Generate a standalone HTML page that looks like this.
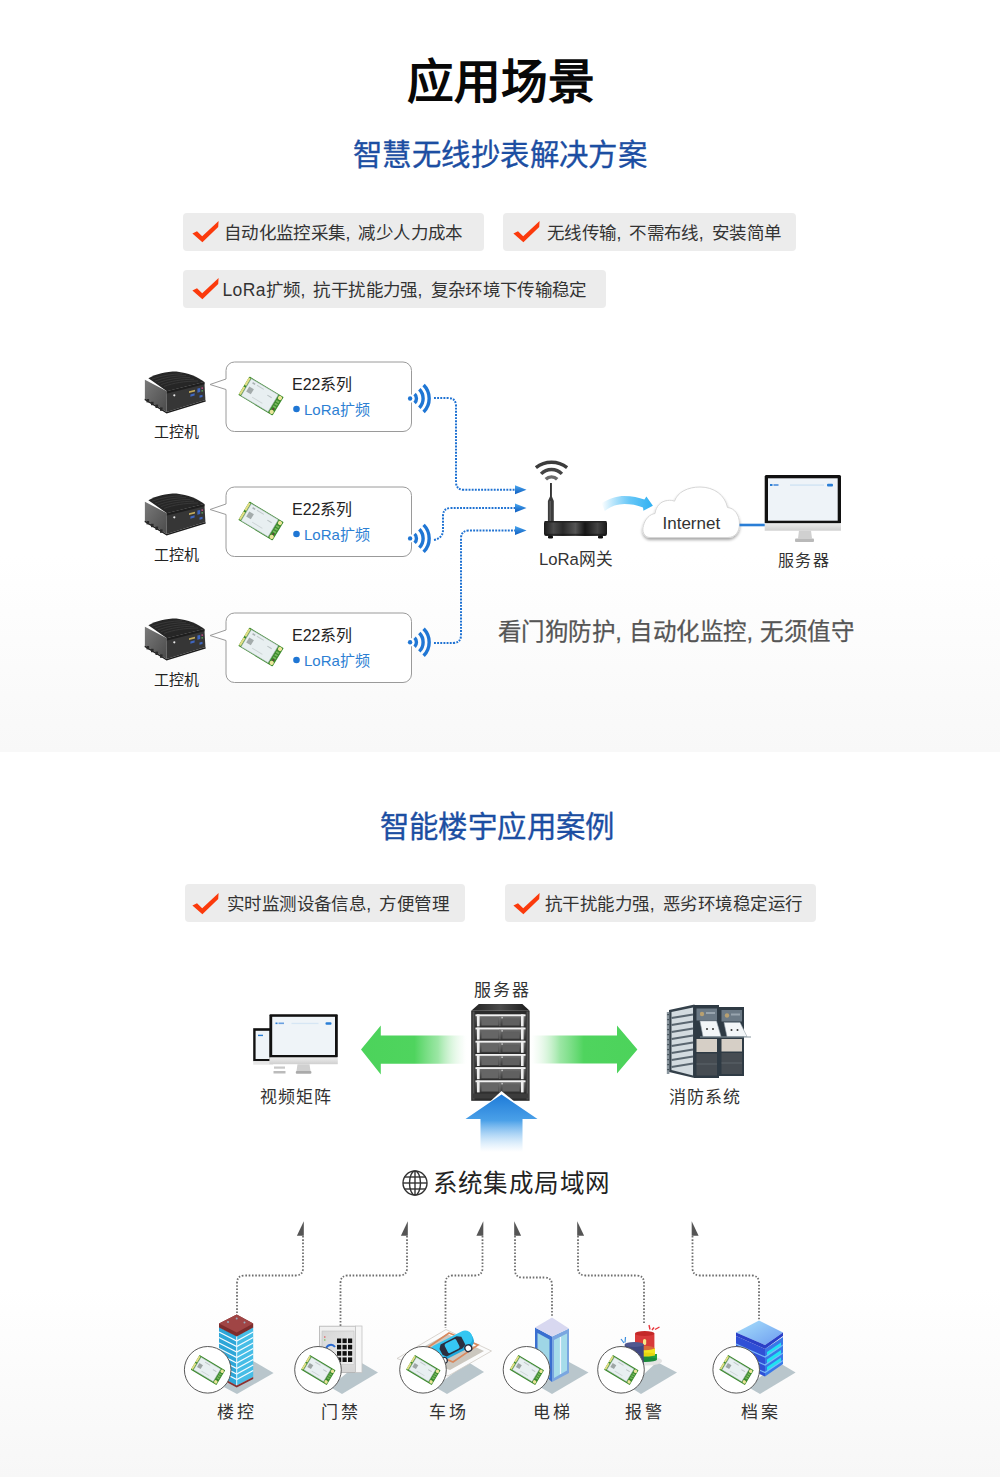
<!DOCTYPE html>
<html lang="zh-CN"><head><meta charset="utf-8">
<style>
*{margin:0;padding:0;box-sizing:border-box}
html,body{width:1000px;height:1477px;overflow:hidden;background:#fff}
body{font-family:"Liberation Sans",sans-serif;position:relative}
.a{position:absolute;white-space:nowrap;line-height:1}
.bg1{position:absolute;left:0;top:0;width:1000px;height:752px;background:linear-gradient(to bottom,#fff 0,#fff 555px,#f8f8f8 752px)}
.bg2{position:absolute;left:0;top:752px;width:1000px;height:725px;background:linear-gradient(to bottom,#fff 0,#fff 535px,#f7f7f7 725px)}
.title{font-size:46.7px;font-weight:700;color:#080808}
.sub{font-size:29.4px;letter-spacing:0.42px;font-weight:400;color:#1c4ea2;-webkit-text-stroke:0.35px #1c4ea2}
.feat{position:absolute;height:38px;background:#ececec;border-radius:4px}
.feat .t{position:absolute;top:11.8px;font-size:17.5px;letter-spacing:0.35px;color:#333;line-height:1}
.cm{margin-right:2.6px}
.feat svg{position:absolute;left:0;top:0}
.bub{position:absolute;width:186px;height:70px;border:1px solid #9a9a9a;border-radius:9px;background:#fff}
.lbl{font-size:15px;color:#222}
.lbl2{font-size:17px;color:#333}
</style></head><body>
<div class="bg1"></div>
<div class="bg2"></div>

<div class="a title" style="left:407px;top:59px">应用场景</div>
<div class="a sub" style="left:353px;top:140.3px">智慧无线抄表解决方案</div>

<div class="feat" style="left:183px;top:213px;width:301px">
 <svg width="40" height="38" viewBox="0 0 40 38"><polygon points="9.4,20.6 14,18.2 19.2,23.2 35.6,8 35.2,14 19.4,29.2" fill="#fb3a0c"/></svg>
 <div class="t" style="left:41px">自动化监控采集<span class="cm">,</span> 减少人力成本</div></div>
<div class="feat" style="left:503px;top:213px;width:293px">
 <svg width="40" height="38" viewBox="0 0 40 38" style="left:1px"><polygon points="9.4,20.6 14,18.2 19.2,23.2 35.6,8 35.2,14 19.4,29.2" fill="#fb3a0c"/></svg>
 <div class="t" style="left:44px">无线传输<span class="cm">,</span> 不需布线<span class="cm">,</span> 安装简单</div></div>
<div class="feat" style="left:183px;top:270px;width:423px">
 <svg width="40" height="38" viewBox="0 0 40 38"><polygon points="9.4,20.6 14,18.2 19.2,23.2 35.6,8 35.2,14 19.4,29.2" fill="#fb3a0c"/></svg>
 <div class="t" style="left:39.5px">LoRa扩频<span class="cm">,</span> 抗干扰能力强<span class="cm">,</span> 复杂环境下传输稳定</div></div>

<div class="a" style="left:498px;top:620.5px;font-size:23.5px;letter-spacing:0.45px;color:#555;-webkit-text-stroke:0.25px #555">看门狗防护, 自动化监控, 无须值守</div>


<svg class="a" style="left:0;top:0" width="1000" height="1477" viewBox="0 0 1000 1477">
<defs>
 <g id="mod">
  <g transform="rotate(31)">
   <rect x="-20" y="-10.8" width="40" height="21.6" rx="0.8" fill="#3b8a2c"/>
   <rect x="-20" y="-9.6" width="2.2" height="8.6" fill="#e2de86"/>
   <rect x="-20" y="0.8" width="2.2" height="8.8" fill="#e2de86"/>
   <rect x="-17.2" y="-9.9" width="31.4" height="19.8" fill="#e8eff1" stroke="#a9b6b8" stroke-width="0.5"/>
   <rect x="-15" y="-2.2" width="5.4" height="6" fill="#a3abab"/>
   <rect x="-14" y="-7.8" width="3" height="1.6" fill="#aab2b4"/>
   <rect x="-9" y="-7.6" width="8" height="1" fill="#c4ccce"/>
   <rect x="5" y="-4.6" width="5" height="1.1" fill="#b9c2c4"/>
   <rect x="-7" y="5.2" width="12" height="0.8" fill="#ccd3d5"/>
   <circle cx="17.3" cy="-8.1" r="2.1" fill="#ebe59a"/>
   <circle cx="17.3" cy="8.1" r="2.1" fill="#ebe59a"/>
   <rect x="15.6" y="-4.6" width="3.2" height="1.8" fill="#78b860"/>
   <rect x="15.6" y="-1.6" width="3.2" height="1.8" fill="#78b860"/>
   <rect x="15.6" y="1.4" width="3.2" height="1.8" fill="#78b860"/>
   <circle cx="17.2" cy="4.9" r="0.8" fill="#7a2040"/>
  </g>
 </g>
 <g id="pc">
  <linearGradient id="pcL" x1="0" y1="0" x2="1" y2="1"><stop offset="0" stop-color="#7a7a7a"/><stop offset="1" stop-color="#4a4a4a"/></linearGradient>
  <polygon points="4.9,14.7 26.9,26.2 26.6,46.9 4.9,33.6" fill="url(#pcL)"/>
  <path d="M8.4,13.3 C16,9 26,6.6 36.4,6.6 C48,8 58,12 64.4,17.1 L26.9,26.2 Z" fill="#262626"/>
  <g stroke="#3a3a3a" stroke-width="0.9" fill="none">
   <path d="M12,14.2 C22,10.5 32,9 42,8.8"/><path d="M15,16 C25,12.3 35,10.8 46,10.6"/><path d="M18,17.8 C28,14.2 38,12.6 50,12.4"/><path d="M21,19.6 C31,16 41,14.4 54,14.2"/><path d="M24,21.4 C34,17.8 44,16.2 58,16"/>
  </g>
  <polygon points="26.9,26.2 64.4,17.1 65.4,35 26.6,46.9" fill="#363636"/>
  <polygon points="26.9,26.2 64.4,17.1 64.5,19.3 26.9,28.6" fill="#1e1e1e"/>
  <circle cx="34.3" cy="30.3" r="1.1" fill="#e8e8e8"/>
  <polygon points="49,26.3 55,24.8 55,26.4 49,27.9" fill="#c2aa5c"/>
  <polygon points="50.4,29.4 54.6,28.3 54.6,30.6 50.4,31.7" fill="#3f66c0"/>
  <polygon points="57.4,23.6 60.2,22.9 60.2,27 57.4,27.7" fill="#3f66c0"/>
  <polygon points="59.5,30.5 62.5,29.8 62.5,32 59.5,32.7" fill="#3f66c0"/>
  <circle cx="62.2" cy="23.1" r="0.9" fill="#c04a80"/>
  <circle cx="62.2" cy="25.8" r="0.9" fill="#5a9a5a"/>
  <polygon points="4.9,33.6 26.6,46.9 65.4,35 65.8,36.4 26.6,48.5 4.5,35" fill="#1c1c1c"/>
  <g fill="#2a2a2a"><rect x="6.5" y="34" width="2.6" height="3.4"/><rect x="11" y="36.8" width="2.6" height="3.4"/><rect x="15.5" y="39.6" width="2.6" height="3.4"/><rect x="20" y="42.4" width="2.6" height="3.4"/></g>
 </g>
 <g id="wifi" fill="none" stroke="#1f76d4" stroke-width="3.4">
  <circle cx="0" cy="0" r="4.2" fill="#fff" stroke="none"/>
  <circle cx="0" cy="0" r="2.2" fill="#1f76d4" stroke="none"/>
  <path d="M4.5,-4.5 A6.4,6.4 0 0 1 4.5,4.5"/>
  <path d="M9.2,-9.2 A13,13 0 0 1 9.2,9.2"/>
  <path d="M13.5,-13.5 A19.1,19.1 0 0 1 13.5,13.5"/>
 </g>
 <linearGradient id="arrG" x1="0" y1="0" x2="0" y2="1"><stop offset="0" stop-color="#4aa6ee"/><stop offset="1" stop-color="#0c5cc0"/></linearGradient>
 <linearGradient id="cArr" x1="0" y1="0" x2="1" y2="0"><stop offset="0" stop-color="#3ab8f5" stop-opacity="0"/><stop offset="0.55" stop-color="#55c0f6" stop-opacity="0.9"/><stop offset="1" stop-color="#2eb0f2"/></linearGradient>
 <linearGradient id="rbase" x1="0" y1="0" x2="1" y2="0"><stop offset="0" stop-color="#0e0e0e"/><stop offset="0.3" stop-color="#3a3a3a"/><stop offset="0.5" stop-color="#555"/><stop offset="0.7" stop-color="#2a2a2a"/><stop offset="1" stop-color="#0e0e0e"/></linearGradient>
 <linearGradient id="silver" x1="0" y1="0" x2="0" y2="1"><stop offset="0" stop-color="#ececec"/><stop offset="1" stop-color="#cfcfcf"/></linearGradient>
 <filter id="cshadow" x="-20%" y="-20%" width="140%" height="160%"><feGaussianBlur in="SourceAlpha" stdDeviation="1.5"/><feOffset dy="1.5"/><feComponentTransfer><feFuncA type="linear" slope="0.35"/></feComponentTransfer><feMerge><feMergeNode/><feMergeNode in="SourceGraphic"/></feMerge></filter>
</defs>

<!-- bubbles -->
<g fill="#fff" stroke="#9a9a9a" stroke-width="1">
 <path d="M234.5,362 H403 A8.5,8.5 0 0 1 411.5,370.5 V423 A8.5,8.5 0 0 1 403,431.5 H234.5 A8.5,8.5 0 0 1 226,423 V389.5 L210,384.5 L226,379 V370.5 A8.5,8.5 0 0 1 234.5,362 Z"/>
 <path d="M234.5,487 H403 A8.5,8.5 0 0 1 411.5,495.5 V548 A8.5,8.5 0 0 1 403,556.5 H234.5 A8.5,8.5 0 0 1 226,548 V514.5 L210,509.5 L226,504 V495.5 A8.5,8.5 0 0 1 234.5,487 Z"/>
 <path d="M234.5,613 H403 A8.5,8.5 0 0 1 411.5,621.5 V674 A8.5,8.5 0 0 1 403,682.5 H234.5 A8.5,8.5 0 0 1 226,674 V640.5 L210,635.5 L226,630 V621.5 A8.5,8.5 0 0 1 234.5,613 Z"/>
</g>
<use href="#mod" x="261" y="396"/>
<use href="#mod" x="261" y="521"/>
<use href="#mod" x="261" y="647"/>
<circle cx="296.5" cy="409" r="3.3" fill="#1f76d4"/>
<circle cx="296.5" cy="534" r="3.3" fill="#1f76d4"/>
<circle cx="296.5" cy="660" r="3.3" fill="#1f76d4"/>

<use href="#pc" x="140" y="365"/>
<use href="#pc" x="140" y="487"/>
<use href="#pc" x="140" y="612"/>

<use href="#wifi" x="410.1" y="398.5"/>
<use href="#wifi" x="410.1" y="538.4"/>
<use href="#wifi" x="410.1" y="642.2"/>

<!-- dotted lines -->
<g fill="none" stroke="#1f72d2" stroke-width="2" stroke-dasharray="1.9 1.25">
 <path d="M434,398 H448 Q456,398 456,406 V482 Q456,489.8 464,489.8 H515"/>
 <path d="M434,540 Q443,538 443,530 V516 Q443,508 451,508 H515"/>
 <path d="M434,643 H453 Q461,643 461,635 V538.5 Q461,530.6 469,530.6 H515"/>
</g>
<g fill="url(#arrG)">
 <polygon points="515,485.3 526.5,489.8 515,494.3"/>
 <polygon points="515,503.5 526.5,508 515,512.5"/>
 <polygon points="515,526.1 526.5,530.6 515,535.1"/>
</g>

<!-- router -->
<g fill="none" stroke-width="3.4">
 <path d="M535.9,467.6 A25.3,25.3 0 0 1 567.1,467.6" stroke="#3c3c3c"/>
 <path d="M541.1,473.9 A14.5,14.5 0 0 1 561.9,473.9" stroke="#444"/>
 <path d="M545.8,479.3 A8,8 0 0 1 557.2,479.3" stroke="#6a6a6a"/>
</g>
<rect x="550" y="483" width="1.9" height="15" fill="#333"/>
<polygon points="550,496.5 551.9,496.5 553.8,501 547.9,501" fill="#3a3a3a"/>
<rect x="547.9" y="501" width="5.9" height="20.5" fill="#3c3c3c"/>
<rect x="549.4" y="501" width="1.6" height="20.5" fill="#5a5a5a"/>
<linearGradient id="rb2" x1="0" y1="0" x2="1" y2="0"><stop offset="0" stop-color="#1a1a1a"/><stop offset="0.15" stop-color="#4a4a4a"/><stop offset="0.3" stop-color="#2a2a2a"/><stop offset="0.5" stop-color="#555"/><stop offset="0.65" stop-color="#151515"/><stop offset="0.85" stop-color="#444"/><stop offset="1" stop-color="#181818"/></linearGradient>
<rect x="544" y="520.9" width="63" height="15" rx="2.2" fill="url(#rb2)"/>
<rect x="544.5" y="520.9" width="62" height="1.6" rx="0.8" fill="#222"/>
<rect x="545" y="533.8" width="61" height="1.6" fill="#111" opacity="0.6"/>
<rect x="548" y="535.5" width="5" height="3" rx="1.2" fill="#111"/>
<rect x="598" y="535.5" width="5" height="3" rx="1.2" fill="#111"/>

<!-- curved arrow -->
<path d="M601.5,503.2 C610,498 617,496 624.3,496 C632,496 639,497.5 644.4,499.6 L646.4,496.4 L652.9,505.8 L643.4,510.7 L643,507.4 C637,505 631,503.9 624.3,503.9 C617,503.9 610,506.5 604.8,511 Z" fill="url(#cArr)"/>

<!-- cloud -->
<path filter="url(#cshadow)" d="M650,537.5 C644,537.5 641.5,531 643.5,525.5 C645,519 650,514 655,513.5 C656,506 661,501 667.5,500.5 C670,500 672.5,500.3 674.5,501.2 C677.5,492 688,487 700,487 C714,487 725,495 727.5,507.5 C734.5,508 739.5,515 739.5,524 C739.5,532 735,537.5 728,537.5 Z" fill="#fff" stroke="#d6d6d6" stroke-width="1"/>
<line x1="739.5" y1="525" x2="765" y2="525" stroke="#2a7ed6" stroke-width="2.6"/>

<!-- monitor -->
<rect x="764.7" y="475" width="76.3" height="48.7" rx="1.5" fill="#111"/>
<rect x="768" y="478.3" width="69.7" height="42.4" fill="#eef3f8"/>
<rect x="764.7" y="523.2" width="76.3" height="7.5" fill="url(#silver)"/>
<rect x="770" y="484" width="2.5" height="2" fill="#2a7ed6"/>
<rect x="773.5" y="484" width="5" height="2" fill="#6aa0e0"/>
<rect x="790" y="484.2" width="34" height="1.8" fill="#d6e6f4"/>
<rect x="827" y="483.8" width="6" height="2.6" rx="1" fill="#2a7ed6"/>
<polygon points="799,530.7 811,530.7 812,538.5 798,538.5" fill="#d0d0d0"/>
<rect x="795" y="538.5" width="19" height="3.5" rx="1" fill="#b9b9b9"/>
</svg>

<div class="a" style="left:154px;top:424.3px;font-size:15px;color:#222">工控机</div>
<div class="a" style="left:154px;top:546.5px;font-size:15px;color:#222">工控机</div>
<div class="a" style="left:154px;top:672px;font-size:15px;color:#222">工控机</div>
<div class="a" style="left:292px;top:377px;font-size:16px;color:#222">E22系列</div>
<div class="a" style="left:292px;top:502px;font-size:16px;color:#222">E22系列</div>
<div class="a" style="left:292px;top:628px;font-size:16px;color:#222">E22系列</div>
<div class="a" style="left:304px;top:401.5px;font-size:15px;color:#2d7fd3">LoRa扩频</div>
<div class="a" style="left:304px;top:526.5px;font-size:15px;color:#2d7fd3">LoRa扩频</div>
<div class="a" style="left:304px;top:652.5px;font-size:15px;color:#2d7fd3">LoRa扩频</div>
<div class="a" style="left:539px;top:552px;font-size:16.7px;color:#333">LoRa网关</div>
<div class="a" style="left:662.5px;top:515px;font-size:17px;color:#333">Internet</div>
<div class="a" style="left:777.5px;top:553px;font-size:16px;letter-spacing:1.7px;color:#333">服务器</div>

<div class="a sub" style="left:379.5px;top:812.3px">智能楼宇应用案例</div>

<div class="feat" style="left:185px;top:884px;width:280px">
 <svg width="40" height="38" viewBox="0 0 40 38" style="left:-1.9px;top:0.7px"><polygon points="9.4,20.6 14,18.2 19.2,23.2 35.6,8 35.2,14 19.4,29.2" fill="#fb3a0c"/></svg>
 <div class="t" style="left:42px;letter-spacing:0.4px">实时监测设备信息<span class="cm">,</span> 方便管理</div></div>
<div class="feat" style="left:505px;top:884px;width:311px">
 <svg width="40" height="38" viewBox="0 0 40 38" style="left:-0.9px;top:0.7px"><polygon points="9.4,20.6 14,18.2 19.2,23.2 35.6,8 35.2,14 19.4,29.2" fill="#fb3a0c"/></svg>
 <div class="t" style="left:40px;letter-spacing:0.45px">抗干扰能力强<span class="cm">,</span> 恶劣环境稳定运行</div></div>


<svg class="a" style="left:0;top:0" width="1000" height="1477" viewBox="0 0 1000 1477">
<defs>
 <linearGradient id="gL" x1="0" y1="0" x2="1" y2="0"><stop offset="0" stop-color="#4cd35b"/><stop offset="0.5" stop-color="#4fd45e"/><stop offset="0.72" stop-color="#7ade86" stop-opacity="0.75"/><stop offset="0.95" stop-color="#e8f8ea" stop-opacity="0.3"/><stop offset="1" stop-color="#fff" stop-opacity="0"/></linearGradient>
 <linearGradient id="gR" x1="1" y1="0" x2="0" y2="0"><stop offset="0" stop-color="#4cd35b"/><stop offset="0.5" stop-color="#4fd45e"/><stop offset="0.72" stop-color="#7ade86" stop-opacity="0.75"/><stop offset="0.95" stop-color="#e8f8ea" stop-opacity="0.3"/><stop offset="1" stop-color="#fff" stop-opacity="0"/></linearGradient>
 <linearGradient id="bU" x1="0" y1="0" x2="0" y2="1"><stop offset="0" stop-color="#1e7bd8"/><stop offset="0.45" stop-color="#4aa0e8"/><stop offset="1" stop-color="#9fd0f6" stop-opacity="0"/></linearGradient>
 <linearGradient id="srvTop" x1="0" y1="0" x2="1" y2="0"><stop offset="0" stop-color="#222"/><stop offset="0.5" stop-color="#4a4a4a"/><stop offset="1" stop-color="#1a1a1a"/></linearGradient>
 <linearGradient id="bay" x1="0" y1="0" x2="0" y2="1"><stop offset="0" stop-color="#7a7a7a"/><stop offset="1" stop-color="#383838"/></linearGradient>
 <linearGradient id="dbTop" x1="0" y1="0" x2="1" y2="1"><stop offset="0" stop-color="#a8e0fb"/><stop offset="1" stop-color="#6c9cf0"/></linearGradient>
 <g id="srvbay">
  <rect x="0" y="0" width="50" height="12" fill="url(#bay)"/>
  <rect x="0" y="0" width="50" height="1.8" fill="#f2f2f2"/>
  <rect x="1.5" y="0" width="2.6" height="12" fill="#eee"/>
  <rect x="45.5" y="0" width="2.6" height="12" fill="#eee"/>
  <rect x="24" y="1.8" width="0.8" height="10" fill="#777"/>
  <rect x="26" y="2.5" width="1.2" height="1.5" fill="#ddd"/>
  <rect x="6" y="3" width="17" height="8" fill="#666"/>
  <rect x="27" y="4.5" width="17" height="6.5" fill="#606060"/>
 </g>
 <g id="mod2"><g transform="rotate(31)">
   <rect x="-15" y="-8.6" width="30" height="17.2" rx="0.6" fill="#3b8a2c"/>
   <rect x="-15" y="-7.6" width="1.8" height="6.8" fill="#e2de86"/>
   <rect x="-15" y="0.6" width="1.8" height="7" fill="#e2de86"/>
   <rect x="-12.4" y="-7.3" width="22.8" height="14.6" fill="#e8eff1" stroke="#a9b6b8" stroke-width="0.4"/>
   <rect x="-11" y="-1.6" width="4.2" height="4.6" fill="#9ea6a6"/>
   <rect x="-6.5" y="-5.6" width="6" height="0.9" fill="#c0c8ca"/>
   <rect x="4" y="-3.4" width="4" height="0.9" fill="#b9c2c4"/>
   <rect x="-5" y="4" width="9" height="0.7" fill="#ccd3d5"/>
   <circle cx="12.8" cy="-6.2" r="1.7" fill="#ebe59a"/>
   <circle cx="12.8" cy="6.2" r="1.7" fill="#ebe59a"/>
   <rect x="11.5" y="-3.4" width="2.6" height="1.4" fill="#78b860"/>
   <rect x="11.5" y="-1.1" width="2.6" height="1.4" fill="#78b860"/>
   <rect x="11.5" y="1.2" width="2.6" height="1.4" fill="#78b860"/>
  </g></g>
</defs>

<!-- video matrix -->
<rect x="253.2" y="1028.2" width="17" height="33" fill="#111"/>
<rect x="255.6" y="1030.8" width="14" height="28.2" fill="#eff4f8"/>
<rect x="258" y="1034.7" width="5" height="1.4" fill="#2a7ed6"/>
<rect x="253.2" y="1061.2" width="20" height="3.5" fill="#e6e6e6"/>
<rect x="274" y="1066.5" width="11" height="2.2" fill="#c8c8c8"/>
<rect x="273.5" y="1071" width="12" height="2.5" fill="#bbb"/>
<rect x="269.4" y="1014.2" width="68.4" height="43.4" rx="1" fill="#111"/>
<rect x="272.2" y="1016.8" width="62.8" height="38.2" fill="#eff4f8"/>
<rect x="275.5" y="1022.5" width="2" height="1.6" fill="#2a7ed6"/><rect x="278.5" y="1022.5" width="5.5" height="1.6" fill="#6aa0e0"/>
<rect x="291.5" y="1022.8" width="27" height="1.3" fill="#d6e6f4"/>
<rect x="325.5" y="1022.3" width="6" height="2.4" rx="1" fill="#2a7ed6"/>
<rect x="269.4" y="1057.6" width="68.4" height="6.6" fill="url(#silver)"/>
<polygon points="297.5,1064.2 309.5,1064.2 310.5,1071 296.5,1071" fill="#d0d0d0"/>
<rect x="295.8" y="1071" width="15.6" height="2.8" rx="1" fill="#aaa"/>

<!-- green arrows -->
<polygon points="361,1049.5 380.8,1025.4 380.8,1035.6 468,1035.6 468,1063.8 380.8,1063.8 380.8,1074.6" fill="url(#gL)"/>
<polygon points="637.4,1049.5 617,1025.5 617,1035.4 530,1035.4 530,1063.6 617,1063.6 617,1073.5" fill="url(#gR)"/>

<!-- server rack -->
<polygon points="478.8,1004 522.4,1004 529.6,1010.8 471.2,1010.8" fill="url(#srvTop)"/>
<rect x="471.2" y="1010.8" width="58.4" height="90" fill="#2b2b2b"/>
<rect x="472.5" y="1011.5" width="2" height="88" fill="#555"/>
<rect x="526.5" y="1011.5" width="2" height="88" fill="#555"/>
<use href="#srvbay" x="475.5" y="1014.4"/>
<use href="#srvbay" x="475.5" y="1027.6"/>
<use href="#srvbay" x="475.5" y="1040.8"/>
<use href="#srvbay" x="475.5" y="1054"/>
<use href="#srvbay" x="475.5" y="1067.2"/>
<use href="#srvbay" x="475.5" y="1080.4"/>
<rect x="473" y="1093.5" width="55" height="5" fill="#3c3c3c"/>

<!-- blue arrow up -->
<polygon points="501.5,1091 470,1120 537,1120" fill="#fff"/>
<polygon points="501.5,1094.5 465.5,1119 480.5,1119 480.5,1152 522.5,1152 522.5,1119 537.5,1119" fill="url(#bU)"/>

<!-- fire system -->
<g>
 <polygon points="669,1010 694.5,1004.5 694.5,1078 669,1072" fill="#34404a"/>
 <polygon points="671.5,1012 693,1007.5 693,1075.5 671.5,1070" fill="#d3dbe0"/>
 <g stroke="#5a6670" stroke-width="2.2">
  <line x1="671.5" y1="1018" x2="693" y2="1014.5"/><line x1="671.5" y1="1025" x2="693" y2="1021.5"/><line x1="671.5" y1="1032" x2="693" y2="1028.5"/><line x1="671.5" y1="1039" x2="693" y2="1035.5"/><line x1="671.5" y1="1046" x2="693" y2="1042.5"/><line x1="671.5" y1="1053" x2="693" y2="1049.5"/><line x1="671.5" y1="1060" x2="693" y2="1056.5"/><line x1="671.5" y1="1067" x2="693" y2="1063.5"/>
 </g>
 <rect x="666.8" y="1012" width="2.6" height="62" fill="#8a969e"/>
 <g fill="#3a464e"><rect x="667.3" y="1014" width="1.6" height="1.2"/><rect x="667.3" y="1019" width="1.6" height="1.2"/><rect x="667.3" y="1024" width="1.6" height="1.2"/><rect x="667.3" y="1029" width="1.6" height="1.2"/><rect x="667.3" y="1034" width="1.6" height="1.2"/><rect x="667.3" y="1039" width="1.6" height="1.2"/><rect x="667.3" y="1044" width="1.6" height="1.2"/><rect x="667.3" y="1049" width="1.6" height="1.2"/><rect x="667.3" y="1054" width="1.6" height="1.2"/><rect x="667.3" y="1059" width="1.6" height="1.2"/><rect x="667.3" y="1064" width="1.6" height="1.2"/><rect x="667.3" y="1069" width="1.6" height="1.2"/></g>
 <rect x="694" y="1005" width="25" height="73" fill="#2e3a44"/>
 <rect x="719" y="1007" width="25" height="69" fill="#2e3a44"/>
 <rect x="696.5" y="1008.5" width="20.5" height="12" fill="#6c7a86"/>
 <rect x="721.5" y="1010" width="20.5" height="11.5" fill="#6c7a86"/>
 <circle cx="702" cy="1014" r="2.2" fill="#b8a070"/><circle cx="727" cy="1015.5" r="2.2" fill="#b8a070"/>
 <rect x="706" y="1012" width="9" height="2" fill="#98a4ae"/><rect x="731" y="1013.5" width="9" height="2" fill="#98a4ae"/>
 <polygon points="700,1021 716.5,1021 721,1036.5 703,1036.5" fill="#f3f6f8" stroke="#9aa6ae" stroke-width="0.6"/>
 <polygon points="724,1022.5 740,1022.5 747,1036.5 727,1036.5" fill="#f3f6f8" stroke="#9aa6ae" stroke-width="0.6"/>
 <circle cx="707" cy="1029" r="1" fill="#333"/><circle cx="713" cy="1029" r="1" fill="#333"/><circle cx="731.5" cy="1030" r="1" fill="#333"/><circle cx="737.5" cy="1030" r="1" fill="#333"/>
 <line x1="700" y1="1037" x2="751" y2="1037" stroke="#8a98a0" stroke-width="1.2"/>
 <rect x="696.5" y="1039" width="20.5" height="13" fill="#d6cfc6"/>
 <rect x="721.5" y="1039" width="20.5" height="12.5" fill="#d6cfc6"/>
 <rect x="696.5" y="1053.5" width="20.5" height="22" fill="#464c52"/>
 <rect x="721.5" y="1053" width="20.5" height="21" fill="#464c52"/>
 <line x1="696.5" y1="1064" x2="717" y2="1064" stroke="#5c646a" stroke-width="1"/><line x1="721.5" y1="1063" x2="742" y2="1063" stroke="#5c646a" stroke-width="1"/>
</g>

<!-- globe -->
<g fill="none" stroke="#333" stroke-width="1.4">
 <circle cx="415" cy="1183" r="12"/>
 <ellipse cx="415" cy="1183" rx="5.5" ry="12"/>
 <line x1="415" y1="1171" x2="415" y2="1195"/>
 <line x1="403" y1="1183" x2="427" y2="1183"/>
 <line x1="404.5" y1="1177" x2="425.5" y2="1177"/>
 <line x1="404.5" y1="1189" x2="425.5" y2="1189"/>
</g>

<!-- gray connectors -->
<g fill="none" stroke="#6e6e6e" stroke-width="1.8" stroke-dasharray="1.6 1.7">
 <path d="M303,1236 V1268 Q303,1275.5 295.5,1275.5 H244.5 Q237,1275.5 237,1283 V1313"/>
 <path d="M407,1236 V1268 Q407,1275.5 399.5,1275.5 H348 Q340.5,1275.5 340.5,1283 V1326"/>
 <path d="M482.5,1236 V1268 Q482.5,1275.5 475,1275.5 H453 Q445.5,1275.5 445.5,1283 V1328"/>
 <path d="M515,1236 V1270 Q515,1277.5 522.5,1277.5 H544.5 Q552,1277.5 552,1285 V1316"/>
 <path d="M578,1236 V1268 Q578,1275.5 585.5,1275.5 H636.5 Q644,1275.5 644,1283 V1324"/>
 <path d="M692.5,1236 V1268 Q692.5,1275.5 700,1275.5 H751.5 Q759,1275.5 759,1283 V1320"/>
</g>
<g fill="#555">
 <polygon points="303.8,1221.2 303.8,1235.7 296.9,1235.7"/>
 <polygon points="407.8,1221.2 407.8,1235.7 400.9,1235.7"/>
 <polygon points="483.3,1221.2 483.3,1235.7 476.4,1235.7"/>
 <polygon points="514.2,1221.2 514.2,1235.7 521.1,1235.7"/>
 <polygon points="577.2,1221.2 577.2,1235.7 584.1,1235.7"/>
 <polygon points="691.7,1221.2 691.7,1235.7 698.6,1235.7"/>
</g>

<!-- shadows -->
<g fill="#b9c6cc">
 <polygon points="253,1361 273.6,1373 237,1394 222,1386"/>
 <polygon points="360,1362 378,1372.5 342,1394 330,1387"/>
 <polygon points="468,1362 484,1372 447,1394 435,1387"/>
 <polygon points="569,1362 588.5,1372.5 552,1394 540,1387"/>
 <polygon points="657,1362 677,1372.5 641,1394 630,1387"/>
 <polygon points="778,1362 795.6,1372.5 760,1394 748,1387"/>
</g>

<!-- building -->
<polygon points="219,1327 236.7,1336 236.7,1385.5 219,1376" fill="#2da6d8"/>
<polygon points="236.7,1336 253.2,1327 253.2,1377 236.7,1385.5" fill="#46bde6"/>
<g stroke="#f4fbff" stroke-width="1.3" fill="none">
 <path d="M219,1332 L236.7,1341 L253.2,1332 M219,1337.5 L236.7,1346.5 L253.2,1337.5 M219,1343 L236.7,1352 L253.2,1343 M219,1348.5 L236.7,1357.5 L253.2,1348.5 M219,1354 L236.7,1363 L253.2,1354 M219,1359.5 L236.7,1368.5 L253.2,1359.5 M219,1365 L236.7,1374 L253.2,1365 M219,1370.5 L236.7,1379.5 L253.2,1370.5"/>
</g>
<line x1="236.7" y1="1336" x2="236.7" y2="1385.5" stroke="#e8f6fc" stroke-width="1"/>
<polygon points="219,1376 236.7,1385.5 253.2,1377 253.2,1379 236.7,1387.5 219,1378" fill="#8a3030"/>
<polygon points="236.7,1314.4 253.2,1323.5 253.2,1327.5 236.7,1336.5 219,1327.5 219,1323.5" fill="#7e2c2c"/>
<polygon points="236.7,1314.4 253.2,1323.5 236.7,1332.5 219,1323.5" fill="#a04545"/>
<circle cx="228" cy="1322" r="1" fill="#9ab"/><circle cx="236.7" cy="1318.5" r="1" fill="#9ab"/><circle cx="244.5" cy="1322.5" r="1" fill="#9ab"/>

<!-- keypad -->
<linearGradient id="kpF" x1="0" y1="0" x2="0" y2="1"><stop offset="0" stop-color="#f2f2f2"/><stop offset="1" stop-color="#d4d4d4"/></linearGradient>
<linearGradient id="kpI" x1="0" y1="0" x2="1" y2="1"><stop offset="0" stop-color="#d6d6d6"/><stop offset="1" stop-color="#eeeeee"/></linearGradient>
<rect x="319.6" y="1326.2" width="36" height="46.4" fill="url(#kpF)" stroke="#b0b0b0" stroke-width="0.8"/>
<rect x="355.6" y="1326" width="6.4" height="46.6" fill="#f6f6f6" stroke="#c4c4c4" stroke-width="0.8"/>
<rect x="322" y="1331" width="32" height="33.6" fill="url(#kpI)" stroke="#bdbdbd" stroke-width="0.5"/>
<path d="M326,1349 A5,5 0 0 1 335,1347" fill="none" stroke="#2a6ad0" stroke-width="2"/>
<g fill="#111">
 <rect x="337" y="1338.5" width="4.2" height="4.6"/><rect x="342.5" y="1338.5" width="4.2" height="4.6"/><rect x="348" y="1338.5" width="4.2" height="4.6"/>
 <rect x="337" y="1344.8" width="4.2" height="4.6"/><rect x="342.5" y="1344.8" width="4.2" height="4.6"/><rect x="348" y="1344.8" width="4.2" height="4.6"/>
 <rect x="337" y="1351.1" width="4.2" height="4.6"/><rect x="342.5" y="1351.1" width="4.2" height="4.6"/><rect x="348" y="1351.1" width="4.2" height="4.6"/>
 <rect x="337" y="1357.4" width="4.2" height="4.6"/><rect x="342.5" y="1357.4" width="4.2" height="4.6"/><rect x="348" y="1357.4" width="4.2" height="4.6"/>
</g>
<circle cx="324.8" cy="1337" r="0.8" fill="#e05050"/><circle cx="324.8" cy="1340" r="0.8" fill="#70c050"/>

<!-- parking -->
<polygon points="446,1329.5 491.5,1351 448,1376 397,1358.5" fill="#fbfbfb" stroke="#cfcac4" stroke-width="0.8"/>
<polygon points="447,1334 484,1351 450,1370 407,1356" fill="#cbc7bf"/>
<polygon points="449,1333 478,1345 453,1362 424,1350" fill="none" stroke="#d9895e" stroke-width="1.6"/>
<g transform="translate(452,1347) rotate(-27)">
 <rect x="-23" y="-8.5" width="46" height="17" rx="7" fill="#1ea9dc"/>
 <rect x="-23" y="-9.5" width="46" height="15" rx="7" fill="#34c6f2"/>
 <path d="M-9,-7.5 L9,-7.5 L13,-5 L13,4 L9,6 L-9,6 L-12,3 L-12,-4 Z" fill="#2b2f3f"/>
 <rect x="-6" y="-6" width="13" height="10.5" rx="2" fill="#36c8f4"/>
 <circle cx="14" cy="8.5" r="3.4" fill="#fff" stroke="#2b2f3f" stroke-width="1.4"/>
 <circle cx="-13" cy="8.5" r="3" fill="#fff" stroke="#2b2f3f" stroke-width="1.2"/>
</g>

<!-- elevator -->
<polygon points="535,1327.5 552,1336.5 552,1382 535,1368" fill="#3a6fd0"/>
<polygon points="537.5,1333 549.5,1339.5 549.5,1378 537.5,1367" fill="#9fd6e6"/>
<polygon points="552,1336.5 569,1328.5 569,1373 552,1382" fill="#7aa6e0"/>
<polygon points="554,1340 567,1333.5 567,1370.5 554,1378" fill="#a6dcea"/>
<line x1="560.5" y1="1337" x2="560.5" y2="1374" stroke="#f0f4ff" stroke-width="1.2"/>
<polygon points="552,1317.5 569,1328.5 552,1336.5 535,1327.5" fill="#d8d8f0"/>

<!-- alarm -->
<ellipse cx="647" cy="1361" rx="15" ry="4.5" fill="#e4e4e4"/>
<rect x="633" y="1354" width="24" height="5.5" fill="#22a045"/>
<ellipse cx="645" cy="1359.5" rx="12" ry="2.5" fill="#1a8a3a"/>
<rect x="635" y="1348" width="20" height="7.5" fill="#f2e420"/>
<ellipse cx="645" cy="1354.5" rx="10" ry="2" fill="#e6d410"/>
<rect x="635" y="1333.5" width="19.4" height="15" fill="#d83a3a"/>
<ellipse cx="644.7" cy="1348" rx="9.7" ry="2.2" fill="#d86a3a"/>
<ellipse cx="644.7" cy="1333.5" rx="9.7" ry="2.6" fill="#c42828"/>
<rect x="643" y="1339" width="3.2" height="6" rx="1.5" fill="#f6e88a"/>
<g stroke="#e8343a" stroke-width="1.4"><line x1="649" y1="1325" x2="650" y2="1329.5"/><line x1="654" y1="1327.5" x2="652" y2="1330"/><line x1="659.5" y1="1327" x2="655" y2="1329.5"/></g>
<rect x="624.7" y="1344.5" width="19" height="22" fill="#404880"/>
<ellipse cx="634.2" cy="1344.5" rx="9.5" ry="2.5" fill="#505890"/>
<g stroke="#3a8ee0" stroke-width="1.2"><line x1="621" y1="1339" x2="624" y2="1343"/><line x1="625.5" y1="1337" x2="625" y2="1342.5"/></g>

<!-- database -->
<polygon points="736,1336 765,1349 765,1376.5 736,1363.5" fill="#3050d6"/>
<polygon points="765,1349 783,1337 783,1364 765,1376.5" fill="#3a78e8"/>
<g fill="#1ee3f2"><polygon points="767,1352 781,1342.5 781,1347 767,1356.5"/><polygon points="767,1359.5 781,1350 781,1354.5 767,1364"/><polygon points="767,1367 781,1357.5 781,1362 767,1371.5"/></g>
<g stroke="#7ab8f8" stroke-width="1.2" fill="none"><path d="M736,1344 L765,1357 L783,1345"/><path d="M736,1352 L765,1365 L783,1353"/><path d="M736,1359.5 L765,1372.5 L783,1360.5"/></g>
<polygon points="759,1320.5 783,1332.5 765,1345 736,1332.5" fill="url(#dbTop)"/>
<polygon points="736,1332.5 765,1345 783,1332.5 783,1336 765,1349 736,1336" fill="#2a40c8"/>

<!-- circles -->
<g fill="#fff" stroke="#5a5a5a" stroke-width="1">
 <circle cx="207.7" cy="1369.8" r="23.3"/>
 <circle cx="318" cy="1369.8" r="23.3"/>
 <circle cx="423" cy="1369.8" r="23.3"/>
 <circle cx="526.5" cy="1369.8" r="23.3"/>
 <circle cx="621" cy="1369.8" r="23.3"/>
 <circle cx="736.2" cy="1369.8" r="23.3"/>
</g>
<use href="#mod2" x="208" y="1370"/>
<use href="#mod2" x="318.3" y="1370"/>
<use href="#mod2" x="423.3" y="1370"/>
<use href="#mod2" x="526.8" y="1370"/>
<use href="#mod2" x="621.3" y="1370"/>
<use href="#mod2" x="736.5" y="1370"/>
</svg>

<div class="a" style="left:473.8px;top:982px;font-size:17px;letter-spacing:1.9px;color:#333">服务器</div>
<div class="a" style="left:259.5px;top:1088.5px;font-size:17px;letter-spacing:1.3px;color:#333">视频矩阵</div>
<div class="a" style="left:669px;top:1089px;font-size:17px;letter-spacing:1.1px;color:#333">消防系统</div>
<div class="a" style="left:432.8px;top:1171.5px;font-size:24.5px;letter-spacing:1.35px;color:#222">系统集成局域网</div>
<div class="a" style="left:216.7px;top:1404px;font-size:17px;letter-spacing:3px;color:#333">楼控</div>
<div class="a" style="left:321px;top:1404px;font-size:17px;letter-spacing:3px;color:#333">门禁</div>
<div class="a" style="left:428.6px;top:1404px;font-size:17px;letter-spacing:3px;color:#333">车场</div>
<div class="a" style="left:532.7px;top:1404px;font-size:17px;letter-spacing:3px;color:#333">电梯</div>
<div class="a" style="left:624.7px;top:1404px;font-size:17px;letter-spacing:3px;color:#333">报警</div>
<div class="a" style="left:741.3px;top:1404px;font-size:17px;letter-spacing:3px;color:#333">档案</div>
</body></html>
